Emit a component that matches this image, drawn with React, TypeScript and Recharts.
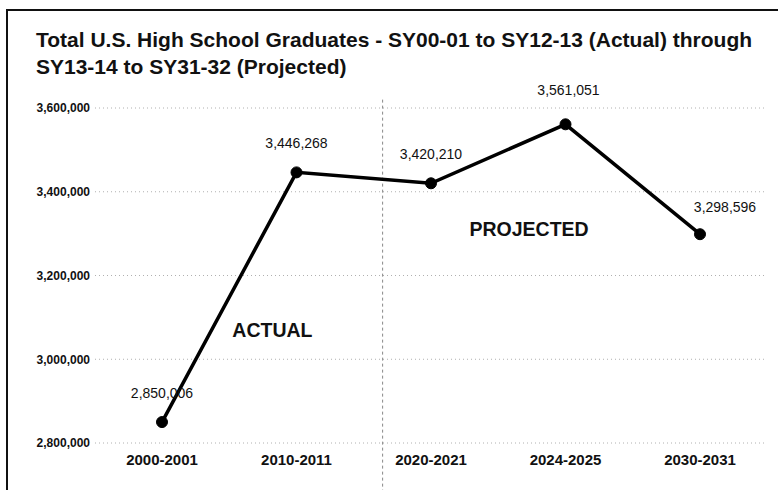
import { LineChart, Line, XAxis, YAxis, CartesianGrid, ReferenceLine, ReferenceDot } from "recharts";

const years = ["2000-2001", "2010-2011", "2020-2021", "2024-2025", "2030-2031"];
const graduates = [2850006, 3446268, 3420210, 3561051, 3298596];
const yTicks = [2800000, 3000000, 3200000, 3400000, 3600000];

// label nudges per point (px), the source chart places them by hand
const labelDx = [0, 0, 0, 3, 25];
const labelDy = [24, 24, 24, 29, 22];

// split between actual and projected, in position units on the hidden axis
const splitAt = 2.14;
const actualAt = { x: 1.32, y: 3070000 };
const projectedAt = { x: 3.23, y: 3311000 };

const data = years.map((year, i) => ({ year, pos: i + 0.5, value: graduates[i] }));

const font = "'Liberation Sans', Arial, sans-serif";

function fmt(v: number) {
  return v.toLocaleString("en-US");
}

function PointLabel(props: any) {
  const { x, y, value, index } = props;
  return (
    <text
      x={x + labelDx[index]}
      y={y - labelDy[index]}
      textAnchor="middle"
      fontSize={14}
      fontFamily={font}
      fill="#111"
    >
      {fmt(value)}
    </text>
  );
}

function BigText({ viewBox, text }: any) {
  return (
    <text
      x={viewBox.x}
      y={viewBox.y}
      textAnchor="middle"
      dominantBaseline="central"
      fontSize={19.5}
      fontWeight="bold"
      fontFamily={font}
      fill="#111"
    >
      {text}
    </text>
  );
}

export default function App() {
  return (
    <div style={{ position: "fixed", left: 0, top: 0, width: 778, height: 490, overflow: "hidden", background: "#fff" }}>
      <div
        style={{
          position: "absolute",
          left: 6,
          top: 9,
          width: 780,
          height: 520,
          border: "2px solid #111",
        }}
      />
      <div
        style={{
          position: "absolute",
          left: 36,
          top: 26,
          fontFamily: font,
          fontWeight: "bold",
          fontSize: 21,
          lineHeight: "27px",
          color: "#111",
          whiteSpace: "nowrap",
        }}
      >
        Total U.S. High School Graduates - SY00-01 to SY12-13 (Actual) through
        <br />
        SY13-14 to SY31-32 (Projected)
      </div>
      <LineChart
        width={778}
        height={490}
        data={data}
        margin={{ top: 108, right: 11, bottom: 17, left: 0 }}
        style={{ position: "absolute", left: 0, top: 0 }}
      >
        <CartesianGrid vertical={false} stroke="#b0b0b0" strokeDasharray="1 3" />
        <XAxis
          dataKey="year"
          height={30}
          axisLine={false}
          tickLine={false}
          tickSize={0}
          tickMargin={11}
          interval={0}
          padding={{ left: 67, right: 67 }}
          tick={{ fontSize: 15, fontWeight: "bold", fontFamily: font, fill: "#111" }}
        />
        <XAxis xAxisId="pos" type="number" dataKey="pos" domain={[0, 5]} hide />
        <YAxis
          width={95}
          domain={[2800000, 3600000]}
          ticks={yTicks}
          tickFormatter={fmt}
          axisLine={false}
          tickLine={false}
          tickSize={0}
          tickMargin={5}
          tick={{ fontSize: 12, fontWeight: "bold", fontFamily: font, fill: "#111" }}
        />
        <ReferenceLine
          xAxisId="pos"
          segment={[
            { x: splitAt, y: 3620000 },
            { x: splitAt, y: 2600000 },
          ]}
          ifOverflow="visible"
          stroke="#888"
          strokeDasharray="3 3"
        />
        <ReferenceDot
          xAxisId="pos"
          x={actualAt.x}
          y={actualAt.y}
          r={0}
          stroke="none"
          label={<BigText text="ACTUAL" />}
        />
        <ReferenceDot
          xAxisId="pos"
          x={projectedAt.x}
          y={projectedAt.y}
          r={0}
          stroke="none"
          label={<BigText text="PROJECTED" />}
        />
        <Line
          type="linear"
          dataKey="value"
          stroke="#000"
          strokeWidth={3.5}
          dot={{ r: 5.5, fill: "#000", stroke: "#000", strokeWidth: 1 }}
          label={<PointLabel />}
          isAnimationActive={false}
        />
      </LineChart>
    </div>
  );
}
